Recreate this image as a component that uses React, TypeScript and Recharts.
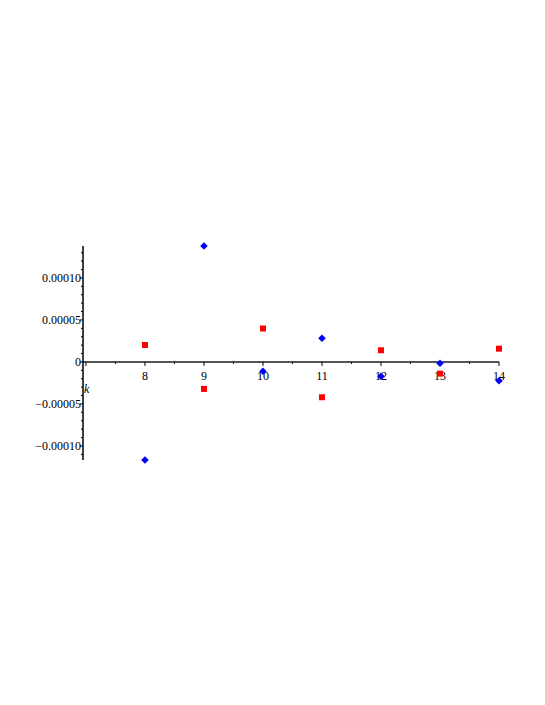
import { ScatterChart, Scatter, XAxis, YAxis, ReferenceLine, ReferenceDot } from "recharts";

const kValues = [8, 9, 10, 11, 12, 13, 14];
const blueValues = [-0.0001167, 0.000138, -0.0000111, 0.0000282, -0.000017, -0.0000015, -0.0000223];
const redValues = [0.0000202, -0.0000321, 0.0000398, -0.000042, 0.0000139, -0.0000139, 0.0000158];

const xMajorTicks = [7, 8, 9, 10, 11, 12, 13, 14];
const xMinorTicks = [7.5, 8.5, 9.5, 10.5, 11.5, 12.5, 13.5];
const yTicks = [
  -0.00011, -0.0001, -0.00009, -0.00008, -0.00007, -0.00006, -0.00005, -0.00004, -0.00003, -0.00002, -0.00001,
  0, 0.00001, 0.00002, 0.00003, 0.00004, 0.00005, 0.00006, 0.00007, 0.00008, 0.00009, 0.0001, 0.00011, 0.00012, 0.00013,
];
const yLabels: Record<string, string> = {
  "-0.0001": "\u22120.00010",
  "-0.00005": "\u22120.00005",
  "0": "0",
  "0.00005": "0.00005",
  "0.0001": "0.00010",
};

const blueData = kValues.map((k, i) => ({ k, v: blueValues[i] }));
const redData = kValues.map((k, i) => ({ k, v: redValues[i] }));

const FONT = "Liberation Serif, Times New Roman, serif";
const textStyle = { fontFamily: FONT, fontSize: 12 };

const Diamond = (props: any) => {
  const { cx, cy } = props;
  return (
    <polygon
      points={`${cx},${cy - 3.8} ${cx + 3.8},${cy} ${cx},${cy + 3.8} ${cx - 3.8},${cy}`}
      fill="#0000FF"
    />
  );
};

const Square = (props: any) => {
  const { cx, cy } = props;
  return <rect x={cx - 3} y={cy - 3} width={6} height={6} fill="#FF0000" />;
};

const YTick = (props: any) => {
  const { x, y, payload } = props;
  const key = String(Number(payload.value.toFixed(6)));
  const label = yLabels[key];
  const major = label !== undefined;
  return (
    <g>
      <line x1={x - (major ? 3 : 2)} x2={x} y1={y} y2={y} stroke="#000" strokeWidth={1} />
      {major && (
        <text x={x - 2} y={y} dy={4.5} textAnchor="end" style={textStyle} fill="#000">
          {label}
        </text>
      )}
    </g>
  );
};

const XMajorMark = (props: any) => {
  const { cx, cy, label } = props;
  return (
    <g>
      <line x1={cx} x2={cx} y1={cy} y2={cy + 4} stroke="#000" strokeWidth={1} />
      {label && (
        <text x={cx} y={cy + 18} textAnchor="middle" style={textStyle} fill="#000">
          {label}
        </text>
      )}
    </g>
  );
};

const XMinorMark = (props: any) => {
  const { cx, cy } = props;
  return <line x1={cx} x2={cx} y1={cy} y2={cy + 2} stroke="#000" strokeWidth={1} />;
};

export default function App() {
  return (
    <div style={{ position: "absolute", left: 0, top: 0, width: 545, height: 705, background: "#fff" }}>
      <ScatterChart width={545} height={705} margin={{ top: 246, right: 46, bottom: 245, left: 0 }}>
        <XAxis type="number" dataKey="k" domain={[6.95, 14]} hide />
        <YAxis
          type="number"
          dataKey="v"
          domain={[-0.0001167, 0.000138]}
          ticks={yTicks}
          interval={0}
          width={83}
          tickSize={0}
          tickMargin={0}
          tickLine={false}
          tick={<YTick />}
          axisLine={{ stroke: "#000", strokeWidth: 1.5 }}
        />
        <ReferenceLine y={0} stroke="#555" strokeWidth={2} />
        {xMinorTicks.map((t) => (
          <ReferenceDot key={`m${t}`} x={t} y={0} r={0} shape={<XMinorMark />} />
        ))}
        {xMajorTicks.map((t) => (
          <ReferenceDot
            key={`M${t}`}
            x={t}
            y={0}
            r={0}
            shape={<XMajorMark label={t === 7 ? "" : String(t)} />}
          />
        ))}
        <ReferenceDot
          x={6.95}
          y={0}
          r={0}
          shape={(p: any) => (
            <text x={p.cx + 1} y={p.cy + 31} style={{ ...textStyle, fontStyle: "italic" }} fill="#000">
              k
            </text>
          )}
        />
        <Scatter data={redData} shape={<Square />} isAnimationActive={false} />
        <Scatter data={blueData} shape={<Diamond />} isAnimationActive={false} />
      </ScatterChart>
    </div>
  );
}
